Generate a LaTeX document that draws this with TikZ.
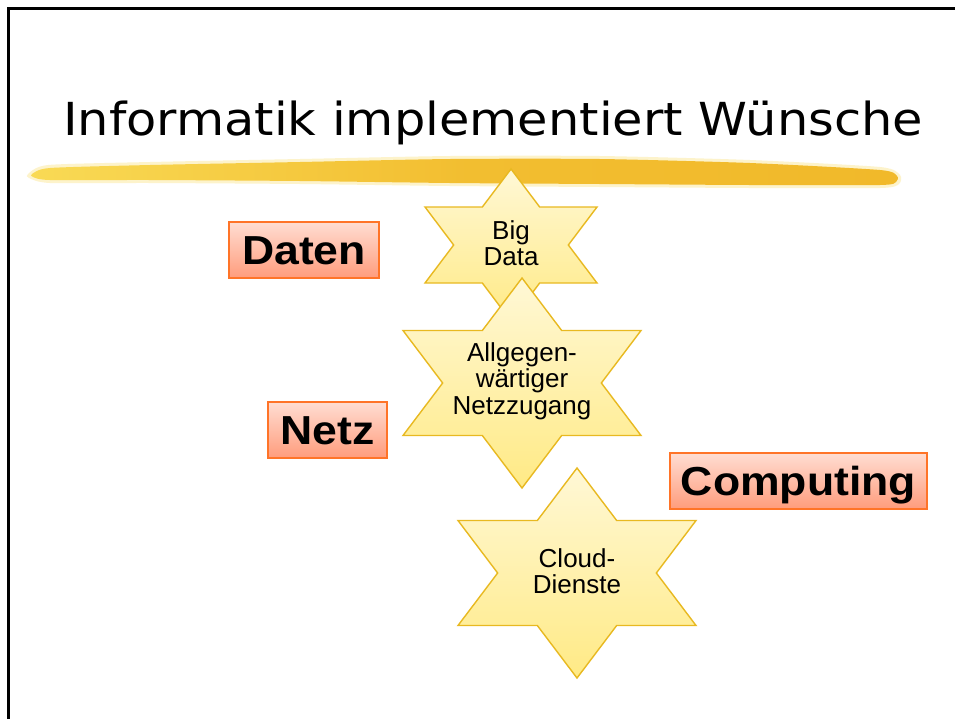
\documentclass[tikz,border=0pt]{standalone}
\usepackage{fontspec}
\setmainfont{Liberation Sans}
\newfontfamily\titlefont{DejaVu Sans}
\usetikzlibrary{calc}

\definecolor{starfillA}{HTML}{FFF8D6}
\definecolor{starfillB}{HTML}{FFEA85}
\definecolor{stardraw}{HTML}{E8B921}
\definecolor{boxA}{HTML}{FFDDD2}
\definecolor{boxB}{HTML}{FF9C7C}
\definecolor{boxdraw}{HTML}{FF7428}
\definecolor{brushA}{HTML}{F9DA55}
\definecolor{brushB}{HTML}{F1B92A}

\tikzset{
  starstyle/.style={draw=stardraw, line width=1.4pt, line join=miter, top color=starfillA, bottom color=starfillB},
  startext/.style={align=center, inner sep=0pt, font=\fontsize{26}{26.5}\selectfont},
  labelbox/.style={draw=boxdraw, line width=1.3pt, top color=boxA, bottom color=boxB, inner sep=0pt,
    text height=29pt, text depth=0pt, font=\bfseries\fontsize{40.5}{44}\selectfont},
  framestyle/.style={draw=black, line width=3pt},
  brushstyle/.style={left color=brushA, right color=brushB, middle color=brushB!85!brushA}
}

\newcommand\hexstar[4]{%
  \pgfmathsetmacro\sx{#4/(0.8660254*#3)}%
  \path[starstyle] ({#1},{#2-#3}) -- ({#1+0.2886751*#3*\sx},{#2-0.5*#3}) -- ({#1+#4},{#2-0.5*#3})
   -- ({#1+0.5773503*#3*\sx},{#2}) -- ({#1+#4},{#2+0.5*#3}) -- ({#1+0.2886751*#3*\sx},{#2+0.5*#3})
   -- ({#1},{#2+#3}) -- ({#1-0.2886751*#3*\sx},{#2+0.5*#3}) -- ({#1-#4},{#2+0.5*#3})
   -- ({#1-0.5773503*#3*\sx},{#2}) -- ({#1-#4},{#2-0.5*#3}) -- ({#1-0.2886751*#3*\sx},{#2-0.5*#3}) -- cycle;}

\begin{document}
\begin{tikzpicture}[x=1pt, y=-1pt]
\useasboundingbox (0,0) rectangle (955,718);
\clip (0,0) rectangle (955,718);
\fill[white] (0,0) rectangle (955,718);

% frame
\draw[framestyle] (8,730) -- (8,8) -- (970,8);

% title
\node[anchor=base west, inner sep=0pt] (title) at (63,135)
  {\resizebox{860pt}{\height}{\titlefont\fontsize{45.5}{54}\selectfont Informatik implementiert Wünsche}};

% brush stroke
\fill[brushA, opacity=0.3] plot[smooth cycle, tension=0.4] coordinates {
  (28,174) (48,165) (150,162) (300,159) (450,156) (600,156) (750,160) (880,167) (900,175)
  (899,184) (880,188) (750,188) (600,187) (450,186) (300,184) (150,183) (50,183) (29,178)};
\shade[brushstyle] plot[smooth cycle, tension=0.4] coordinates {
  (32,174) (50,168) (150,165) (300,162) (450,159) (600,159) (750,163) (880,170) (897,176)
  (896,182) (880,185) (750,185) (600,184) (450,183) (300,181) (150,180) (50,180) (33,177)};

% stars
\hexstar{511}{245}{76}{86}
\node[startext] (bigdata) at (511,243) {Big\\Data};

\hexstar{522}{383}{105}{119}
\node[startext] (netzzugang) at (522,381) {Allgegen-\\wärtiger\\Netzzugang};

\hexstar{577}{573}{105}{119}
\node[startext] (cloud) at (577,571) {Cloud-\\Dienste};

% labels
\node[labelbox, minimum width=150pt, minimum height=56pt] (daten) at (304,250) {\scalebox{1.1}[1]{Daten}};
\node[labelbox, minimum width=119pt, minimum height=56pt] (netz) at (327.5,430) {\scalebox{1.1}[1]{Netz}};
\node[labelbox, minimum width=257pt, minimum height=56pt] (computing) at (798.5,481) {\scalebox{1.1}[1]{Computing}};
\end{tikzpicture}
\end{document}
